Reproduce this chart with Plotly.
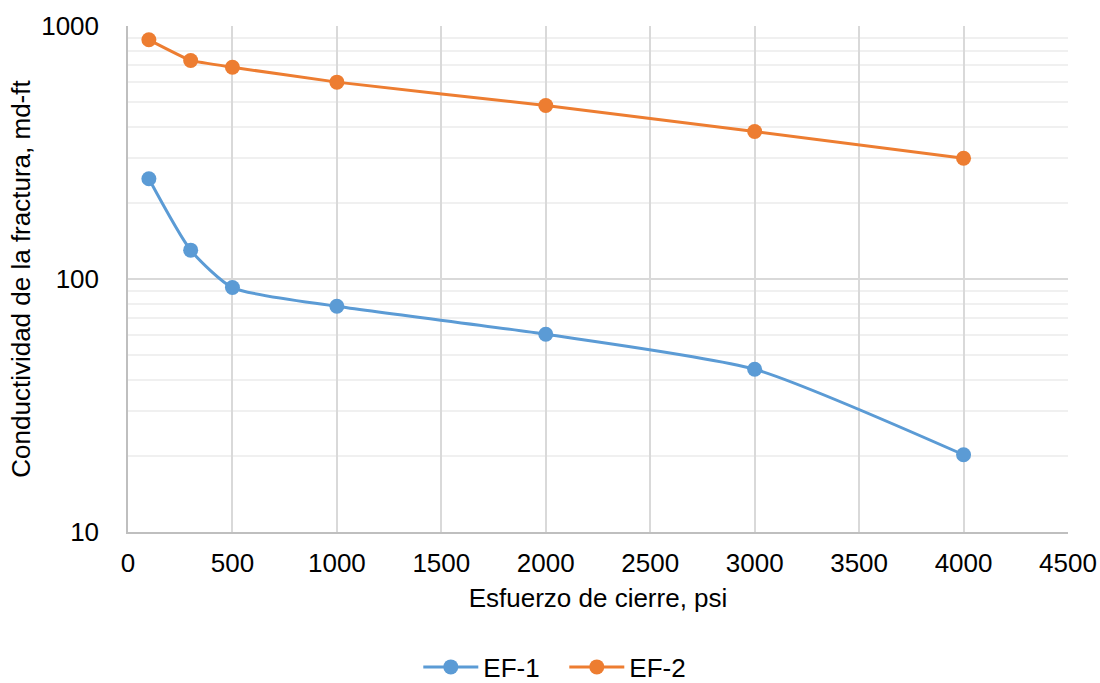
import plotly.graph_objects as go

esfuerzo = [100, 300, 500, 1000, 2000, 3000, 4000]
ef1 = [249, 130, 92.5, 78, 60.5, 44, 20.2]
ef2 = [882, 731, 687, 600, 485, 383, 300]
x_ticks = [0, 500, 1000, 1500, 2000, 2500, 3000, 3500, 4000, 4500]
y_ticks = [10, 100, 1000]

FONT = "Liberation Sans, Arial, sans-serif"
FS = 26

fig = go.Figure()
fig.add_trace(go.Scatter(x=esfuerzo, y=ef1, name="EF-1", mode="lines+markers",
                         line=dict(color="#5B9BD5", width=3, shape="spline", smoothing=0.6),
                         marker=dict(size=15, color="#5B9BD5")))
fig.add_trace(go.Scatter(x=esfuerzo, y=ef2, name="EF-2", mode="lines+markers",
                         line=dict(color="#ED7D31", width=3, shape="spline", smoothing=0.3),
                         marker=dict(size=15, color="#ED7D31")))

fig.update_layout(
    width=1100, height=683,
    margin=dict(l=128, r=32, t=26, b=151, autoexpand=False),
    paper_bgcolor="white", plot_bgcolor="white",
    font=dict(family=FONT, size=FS, color="black"),
    showlegend=True,
    legend=dict(orientation="h", x=0.513, xanchor="center", xref="container",
                y=(683 - 667) / 683, yanchor="middle", yref="container",
                font=dict(size=FS), itemwidth=55, entrywidth=76),
)
fig.update_xaxes(
    range=[0, 4500], tickvals=x_ticks, ticktext=[str(v) for v in x_ticks],
    showgrid=True, gridcolor="#d9d9d9", gridwidth=1.5,
    showline=True, linecolor="#bfbfbf", linewidth=1.5,
    zeroline=False, ticks="", ticklabelstandoff=7, automargin=False,
    title=dict(text="Esfuerzo de cierre, psi", font=dict(size=FS), standoff=12),
)
fig.update_yaxes(
    type="log", range=[1, 3], tickvals=y_ticks, ticktext=[str(v) for v in y_ticks],
    showgrid=True, gridcolor="#d9d9d9", gridwidth=1.5,
    minor=dict(showgrid=True, gridcolor="#f0f0f0", gridwidth=1.5,
               tickvals=[m * d for d in [10, 100] for m in range(2, 10)]),
    showline=True, linecolor="#bfbfbf", linewidth=1.5,
    zeroline=False, ticks="", ticklabelstandoff=22, automargin=False,
    title=dict(text="Conductividad de la fractura, md-ft", font=dict(size=FS), standoff=3),
)

fig.write_html("out.html")
